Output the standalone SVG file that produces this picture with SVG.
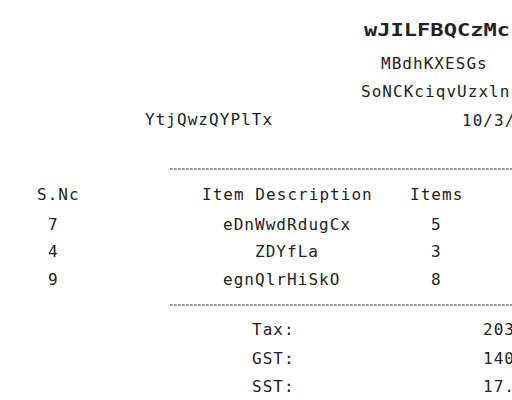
<svg xmlns="http://www.w3.org/2000/svg" width="512" height="400" viewBox="0 0 512 400">
<style>
  text { font-family: "DejaVu Sans Mono", "Liberation Mono", monospace; font-size: 16px; letter-spacing: 1.04px; fill: #222; }
  .title { font-size: 17px; font-weight: bold; letter-spacing: 0; }
  .dash { stroke: #333; stroke-width: 1; stroke-dasharray: 2.7 1.3; fill: none; }
</style>
<rect width="512" height="400" fill="#ffffff"/>
<g id="header">
  <text class="title" x="364" y="36" textLength="146" lengthAdjust="spacingAndGlyphs">wJILFBQCzMc</text>
  <text x="381" y="69">MBdhKXESGs</text>
  <text x="361" y="97">SoNCKciqvUzxln</text>
  <text x="145" y="125">YtjQwzQYPlTx</text>
  <text x="462" y="126">10/3/</text>
</g>
<g id="rules">
  <line class="dash" x1="170" y1="169" x2="512" y2="169"/>
  <line class="dash" x1="170" y1="305" x2="512" y2="305"/>
</g>
<g id="table">
  <text x="37" y="200">S.Nc</text>
  <text x="202" y="200">Item Description</text>
  <text x="410" y="200">Items</text>
  <text x="48" y="230">7</text>
  <text x="223" y="230">eDnWwdRdugCx</text>
  <text x="431" y="230">5</text>
  <text x="48" y="257">4</text>
  <text x="255" y="257">ZDYfLa</text>
  <text x="431" y="257">3</text>
  <text x="48" y="285">9</text>
  <text x="223" y="285">egnQlrHiSkO</text>
  <text x="431" y="285">8</text>
</g>
<g id="totals">
  <text x="252" y="335">Tax:</text>
  <text x="483" y="335">203</text>
  <text x="252" y="364">GST:</text>
  <text x="483" y="364">140</text>
  <text x="252" y="392">SST:</text>
  <text x="483" y="392">17.</text>
</g>
</svg>
